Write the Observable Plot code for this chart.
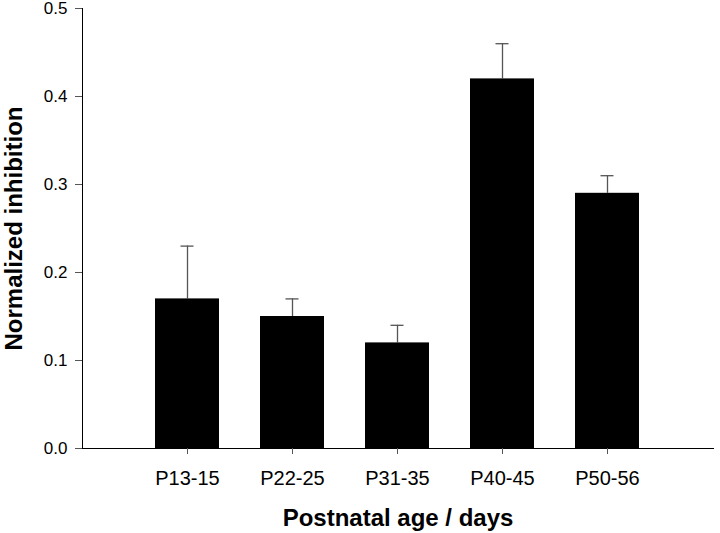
<!DOCTYPE html>
<html>
<head>
<meta charset="utf-8">
<script src="https://cdn.jsdelivr.net/npm/d3@7"></script>
<script src="https://cdn.jsdelivr.net/npm/@observablehq/plot@0.6"></script>
<style>
  html, body { margin: 0; padding: 0; background: #fff; }
  #chart svg { display: block; }
  #chart svg text { fill: #000; }
</style>
</head>
<body>
<div id="chart"></div>
<script>
const ages = ["P13-15", "P22-25", "P31-35", "P40-45", "P50-56"];
const means = [0.17, 0.15, 0.12, 0.42, 0.29];
const errors = [0.06, 0.02, 0.02, 0.04, 0.02];
const yTicks = [0, 0.1, 0.2, 0.3, 0.4, 0.5];

const data = ages.map((age, i) => ({age, mean: means[i], upper: means[i] + errors[i]}));

const axisColor = "#555";

const chart = Plot.plot({
  width: 720,
  height: 533,
  marginLeft: 82,
  marginRight: 7,
  marginTop: 8,
  marginBottom: 85,
  style: {fontFamily: "'Liberation Sans', Arial, sans-serif", fontSize: "17px", color: "#000", background: "#fff"},
  x: {
    domain: ages,
    type: "band",
    paddingInner: 0.39,
    paddingOuter: 0.695,
    label: "Postnatal age / days",
    labelAnchor: "center",
    labelOffset: 77,
    tickSize: 6,
    tickPadding: 16,
    line: true
  },
  y: {
    domain: [0, 0.5],
    ticks: yTicks,
    tickFormat: d3.format(".1f"),
    label: "Normalized inhibition",
    labelArrow: "none",
    labelAnchor: "center",
    labelOffset: 78,
    tickSize: 7,
    tickPadding: 8,
    line: true
  },
  marks: [
    Plot.ruleX(data, {x: "age", y1: "mean", y2: "upper", stroke: axisColor, strokeWidth: 1.3}),
    Plot.tickY(data, {x: "age", y: "upper", stroke: axisColor, strokeWidth: 1.3, insetLeft: 25.5, insetRight: 25.5}),
    Plot.barY(data, {x: "age", y: "mean", fill: "#000"})
  ]
});

// style axes
chart.querySelectorAll("[aria-label^='x-axis'] text").forEach(t => t.setAttribute("font-size", "20px"));
chart.querySelectorAll("[aria-label='x-axis label'] text, [aria-label='y-axis label'] text").forEach(t => {
  t.setAttribute("font-size", "24px");
  t.setAttribute("font-weight", "bold");
});
// strip any direction arrows from axis labels
chart.querySelectorAll("text, tspan").forEach(t => {
  if (t.childElementCount === 0 && /[↑↓←→]/.test(t.textContent)) {
    t.textContent = t.textContent.replace(/\s*[↑↓←→]\s*/g, "").trim();
  }
});
chart.querySelectorAll("[aria-label$='tick'] path, [aria-label$='tick'] line, [aria-label='x-axis'] line, [aria-label='y-axis'] line").forEach(p => p.setAttribute("stroke", axisColor));

document.getElementById("chart").appendChild(chart);
</script>
</body>
</html>
